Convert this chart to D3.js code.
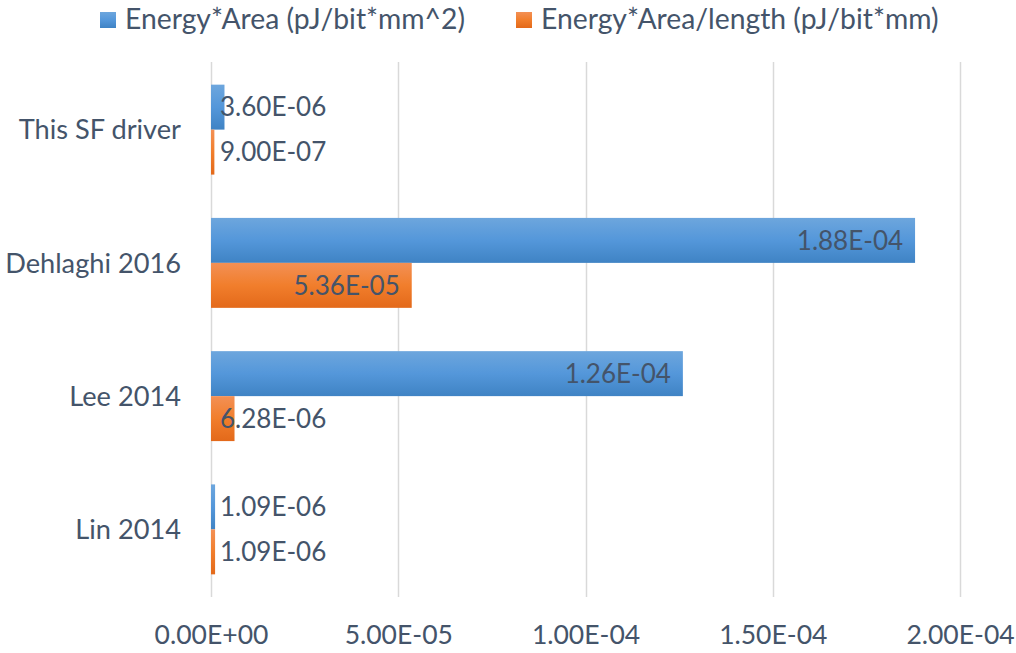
<!DOCTYPE html>
<html>
<head>
<meta charset="utf-8">
<script src="https://cdn.jsdelivr.net/npm/d3@7"></script>
<style>
  html, body { margin: 0; padding: 0; background: #fff; }
  svg { display: block; font-family: "Lato", "Open Sans", sans-serif; }
</style>
</head>
<body>
<svg id="chart" width="1016" height="653"></svg>
<script>
// Energy-area figures of merit for several driver designs
const categories = ["This SF driver", "Dehlaghi 2016", "Lee 2014", "Lin 2014"];
const seriesNames = ["Energy*Area (pJ/bit*mm^2)", "Energy*Area/length (pJ/bit*mm)"];
const energyArea = [3.60e-6, 1.88e-4, 1.26e-4, 1.09e-6];
const energyAreaPerLength = [9.00e-7, 5.36e-5, 6.28e-6, 1.09e-6];
const tickValues = [0, 5e-5, 1e-4, 1.5e-4, 2e-4];
const tickLabels = ["0.00E+00", "5.00E-05", "1.00E-04", "1.50E-04", "2.00E-04"];

const textColor = "#44546a";
const fontSize = 26;

const svg = d3.select("#chart");
const margin = { left: 211, right: 56, top: 63, bottom: 57 };
const W = 1016, H = 653;

const x = d3.scaleLinear().domain([0, 2e-4]).range([margin.left, W - margin.right]);
const y = d3.scaleBand().domain(categories).range([margin.top, H - margin.bottom])
  .paddingInner(0.325).paddingOuter(0.1625);
const sub = d3.scaleBand().domain([0, 1]).range([0, y.bandwidth()]);

// gradients
const defs = svg.append("defs");
const gradStops = [
  [["0%", "#6da6dd"], ["50%", "#5497da"], ["100%", "#3f83c4"]],
  [["0%", "#f39055"], ["50%", "#f17e2c"], ["100%", "#e3691a"]]
];
gradStops.forEach((stops, i) => {
  const g = defs.append("linearGradient").attr("id", "grad" + i)
    .attr("x1", 0).attr("y1", 0).attr("x2", 0).attr("y2", 1);
  stops.forEach(s => g.append("stop").attr("offset", s[0]).attr("stop-color", s[1]));
});

// vertical gridlines
svg.append("g").selectAll("line").data(tickValues).join("line")
  .attr("x1", d => Math.round(x(d)) + 0.5).attr("x2", d => Math.round(x(d)) + 0.5)
  .attr("y1", margin.top - 1).attr("y2", H - margin.bottom + 1)
  .attr("stroke", "#d9d9d9").attr("stroke-width", 1.5);

// x tick labels
const xAxis = d3.axisBottom(x).tickValues(tickValues)
  .tickFormat((d, i) => tickLabels[i]).tickSize(0).tickPadding(0);
const gx = svg.append("g").attr("transform", `translate(0, ${H - margin.bottom})`).call(xAxis);
gx.select(".domain").remove();
gx.selectAll("text").attr("font-size", 26.5).attr("fill", textColor)
  .attr("font-family", "Lato, 'Open Sans', sans-serif")
  .attr("dy", null).attr("y", 0).attr("transform", "translate(0, 48)");

// category labels
const yAxis = d3.axisLeft(y).tickSize(0).tickPadding(0);
const gy = svg.append("g").attr("transform", `translate(${margin.left - 30}, 0)`).call(yAxis);
gy.select(".domain").remove();
gy.selectAll("text").attr("font-size", 27.2).attr("fill", textColor)
  .attr("font-family", "Lato, 'Open Sans', sans-serif")
  .attr("dy", "0.36em");

// bars
const seriesData = [energyArea, energyAreaPerLength];
const rows = [];
seriesData.forEach((vals, s) => vals.forEach((v, i) => rows.push({ s, cat: categories[i], v })));

svg.append("g").selectAll("rect").data(rows).join("rect")
  .attr("x", x(0))
  .attr("y", d => y(d.cat) + sub(d.s))
  .attr("width", d => Math.max(x(d.v) - x(0), 1.5))
  .attr("height", sub.bandwidth())
  .attr("fill", d => `url(#grad${d.s})`);

// value labels
const fmt = v => {
  const [m, e] = v.toExponential(2).split("e");
  const ex = parseInt(e, 10);
  return m + "E" + (ex < 0 ? "-" : "+") + String(Math.abs(ex)).padStart(2, "0");
};
const labels = svg.append("g").selectAll("text").data(rows).join("text")
  .attr("y", d => y(d.cat) + sub(d.s) + sub.bandwidth() / 2)
  .attr("dy", "0.36em")
  .attr("font-size", fontSize).attr("fill", textColor)
  .attr("text-anchor", "end")
  .text(d => fmt(d.v));
labels.each(function (d) {
  const w = this.getComputedTextLength();
  const right = Math.max(x(d.v) - 12, x(0) + 9 + w);
  d3.select(this).attr("x", right);
});

// legend
const legend = svg.append("g");
const legendX = [100, 516];
seriesNames.forEach((name, i) => {
  const g = legend.append("g").attr("transform", `translate(${legendX[i]}, 0)`);
  g.append("rect").attr("x", 0).attr("y", 12).attr("width", 16).attr("height", 16)
    .attr("fill", `url(#grad${i})`);
  g.append("text").attr("x", 25).attr("y", 29)
    .attr("font-size", 28.3).attr("fill", textColor).text(name);
});
</script>
</body>
</html>
